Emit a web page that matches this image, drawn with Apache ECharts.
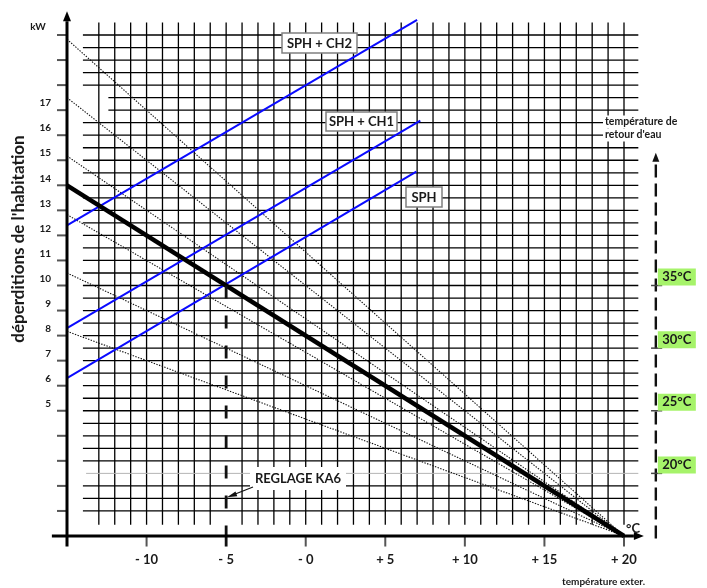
<!DOCTYPE html>
<html>
<head>
<meta charset="utf-8">
<script src="https://cdn.jsdelivr.net/npm/echarts@6/dist/echarts.min.js"></script>
<style>
  html, body { margin: 0; padding: 0; background: #fff; }
  #chart { width: 707px; height: 588px; }
</style>
</head>
<body>
<div id="chart"></div>
<script>
// Outdoor temperature axis (°C) and its tick labels
const xTicks = [-15, -10, -5, 0, 5, 10, 15, 20];
const xTickLabels = ['', '- 10', '- 5', '- 0', '+ 5', '+ 10', '+ 15', '+ 20'];
// Heat-loss axis (kW): values that carry a label
const yTickLabels = [5, 6, 7, 8, 9, 10, 11, 12, 13, 14, 15, 16, 17];

// Building heat loss: kW at -15 °C, falling to zero at +20 °C
const lossFrom = [-15, 14];
const lossTo = [20, 0];
// Family of dotted heat-loss curves: kW at -15 °C, all meeting 0 kW at +20 °C
const curveStartKw = [19.83, 17.5, 15.17, 12.83, 10.5, 8.17];

// Heat-pump output lines, [°C, kW] start and end
const sphLine = [[-15, 6.3], [6.95, 14.55]];
const ch1Line = [[-15, 8.3], [7.2, 16.58]];
const ch2Line = [[-15, 12.4], [7.0, 20.6]];

// Return water temperature scale
const returnTemps = ['20°C', '25°C', '30°C', '35°C'];
const returnKw = [2.5, 5, 7.5, 10];

// KA6 setting point: heat loss meets the SPH line
const setpoint = [-5, 10];

const FONT = 'Lato, "DejaVu Sans", sans-serif';
const INK = '#1a1a1a';

// ---------- helpers ----------
function segmentSeries(segs, style, z) {
  return {
    type: 'custom', silent: true, clip: false, z: z,
    data: segs,
    encode: { x: [0, 2], y: [1, 3] },
    renderItem: function (params, api) {
      const a = api.coord([api.value(0), api.value(1)]);
      const b = api.coord([api.value(2), api.value(3)]);
      return {
        type: 'line',
        shape: { x1: a[0], y1: a[1], x2: b[0], y2: b[1] },
        style: Object.assign({ lineCap: 'butt' }, style)
      };
    }
  };
}

// A line ending in a filled arrow head
function arrowSeries(from, to, style, headLen, headHalf, z) {
  return {
    type: 'custom', silent: true, clip: false, z: z,
    data: [[from[0], from[1], to[0], to[1]]],
    encode: { x: [0, 2], y: [1, 3] },
    renderItem: function (params, api) {
      const a = api.coord([api.value(0), api.value(1)]);
      const b = api.coord([api.value(2), api.value(3)]);
      const dx = b[0] - a[0], dy = b[1] - a[1];
      const len = Math.sqrt(dx * dx + dy * dy);
      const ux = dx / len, uy = dy / len;
      const bx = b[0] - ux * headLen, by = b[1] - uy * headLen;
      return {
        type: 'group',
        children: [
          { type: 'line', shape: { x1: a[0], y1: a[1], x2: bx, y2: by },
            style: Object.assign({ lineCap: 'butt' }, style) },
          { type: 'polygon',
            shape: { points: [[b[0], b[1]],
                              [bx - uy * headHalf, by + ux * headHalf],
                              [bx + uy * headHalf, by - ux * headHalf]] },
            style: { fill: style.stroke } }
        ]
      };
    }
  };
}

// ---------- background grid ----------
const gridSegs = [];
for (let x = -13; x <= 20; x++) {
  // the -5 °C column is replaced by the setting line below 10 kW
  gridSegs.push([x, x === setpoint[0] ? setpoint[1] : 0.45, x, 20.5]);
}
for (let k = 2; k <= 40; k++) {
  const y = k / 2;
  if (y === 2.5) continue;
  const x0 = (y === 17 || y === 17.5) ? -12.4 : -14;
  gridSegs.push([x0, y, 20.9, y]);
}

// ---------- axis ticks ----------
const yTickSegs = [];
for (let v = 1; v <= 20; v++) yTickSegs.push([-15.63, v, -15, v]);
const xTickSegs = xTicks.filter(v => v !== -15 && v !== setpoint[0]).map(v => [v, 0, v, -0.42]);

// ---------- curve data ----------
const dottedSegs = curveStartKw.map(v => [-15, v, lossTo[0], lossTo[1]]);
const blueSegs = [sphLine, ch1Line, ch2Line].map(l => [l[0][0], l[0][1], l[1][0], l[1][1]]);
const returnX = 22;
const returnTickSegs = returnKw.map(v => [returnX - 0.3, v, returnX + 0.4, v]);

// Green return temperature tags
const returnLabelSeries = {
  type: 'custom', silent: true, clip: false, z: 10,
  data: returnKw.map((v, i) => [returnX, v, i]),
  encode: { x: 0, y: 1 },
  renderItem: function (params, api) {
    const p = api.coord([api.value(0), api.value(1)]);
    const i = api.value(2);
    return {
      type: 'group',
      children: [
        { type: 'rect', shape: { x: p[0] + 2, y: p[1] - 17, width: 38, height: 17 },
          style: { fill: '#a6f36a' } },
        { type: 'text', x: p[0] + 21, y: p[1] - 8.5,
          style: { text: returnTemps[i], fill: INK, font: 'bold 13px ' + FONT,
                   align: 'center', verticalAlign: 'middle',
                   textAlign: 'center', textVerticalAlign: 'middle' } }
      ]
    };
  }
};

function boxLabel(text, x, y, w, h, border) {
  return {
    type: 'group', z: 100,
    children: [
      { type: 'rect', shape: { x: x, y: y, width: w, height: h }, z: 100,
        style: { fill: '#fff', stroke: border ? '#808080' : null, lineWidth: border ? 1.5 : 0 } },
      { type: 'text', x: x + w / 2, y: y + h / 2 + 0.5, z: 101,
        style: { text: text, fill: INK, font: 'bold 13px ' + FONT,
                 align: 'center', verticalAlign: 'middle',
                 textAlign: 'center', textVerticalAlign: 'middle' } }
    ]
  };
}

function plainText(text, x, y, size, align, extra) {
  return Object.assign({
    type: 'text', x: x, y: y, z: 100,
    style: { text: text, fill: INK, font: 'bold ' + size + 'px ' + FONT,
             align: align, verticalAlign: 'middle',
             textAlign: align, textVerticalAlign: 'middle' }
  }, extra || {});
}

const chart = echarts.init(document.getElementById('chart'), null, { renderer: 'canvas' });

chart.setOption({
  animation: false,
  backgroundColor: '#fff',
  grid: { left: 67, right: 83, top: 35, bottom: 52 },
  xAxis: {
    type: 'value', min: -15, max: 20, interval: 5,
    axisLine: { show: false },
    splitLine: { show: false },
    axisTick: { show: false },
    axisLabel: {
      margin: 17, fontSize: 13, fontWeight: 'bold', fontFamily: FONT, color: INK,
      formatter: v => { const i = xTicks.indexOf(v); return i >= 0 ? xTickLabels[i] : ''; }
    }
  },
  yAxis: {
    type: 'value', min: 0, max: 20, interval: 1,
    axisLine: { show: false },
    splitLine: { show: false },
    axisTick: { show: false },
    axisLabel: {
      margin: 16, fontSize: 10, fontWeight: 'bold', fontFamily: FONT, color: INK,
      verticalAlign: 'bottom', padding: [0, 0, 2, 0],
      formatter: v => yTickLabels.includes(v) ? String(v) : ''
    }
  },
  series: [
    segmentSeries(gridSegs, { stroke: '#000', lineWidth: 1.3 }, 1),
    segmentSeries([[-13.8, 2.5, 20.9, 2.5]], { stroke: '#b4b4b4', lineWidth: 1 }, 1),
    segmentSeries(dottedSegs, { stroke: '#111', lineWidth: 1.1, lineDash: [1.4, 1.4] }, 2),
    segmentSeries(blueSegs, { stroke: '#0a0aff', lineWidth: 2 }, 3),
    segmentSeries([[lossFrom[0], lossFrom[1], lossTo[0], lossTo[1]]],
                  { stroke: '#000', lineWidth: 4.5 }, 4),
    // setting line down to the temperature axis
    segmentSeries([[setpoint[0], setpoint[1], setpoint[0], 0]],
                  { stroke: '#111', lineWidth: 2.8, lineDash: [13, 17] }, 4),
    segmentSeries([[setpoint[0], 0, setpoint[0], -0.42]], { stroke: '#111', lineWidth: 2.8 }, 4),
    // axis ticks
    segmentSeries(yTickSegs, { stroke: '#555', lineWidth: 2 }, 5),
    segmentSeries(xTickSegs, { stroke: '#555', lineWidth: 2 }, 5),
    // axes
    arrowSeries([-15.95, 0], [21.25, 0], { stroke: '#000', lineWidth: 3 }, 10, 4, 6),
    arrowSeries([-15, -0.42], [-15, 20.95], { stroke: '#000', lineWidth: 3 }, 10, 4, 6),
    // return water temperature scale
    arrowSeries([returnX, -0.1], [returnX, 15.3],
                { stroke: '#111', lineWidth: 2.4, lineDash: [13, 6] }, 9, 3.5, 6),
    segmentSeries(returnTickSegs, { stroke: '#444', lineWidth: 1.5 }, 7),
    returnLabelSeries
  ],
  graphic: [
    plainText('déperditions de l\'habitation', 19, 239, 17, 'center', { rotation: Math.PI / 2 }),
    plainText('kW', 38, 27, 10, 'center'),
    plainText('°C', 633, 529, 13, 'center'),
    plainText('température exter.', 562, 582, 10, 'left'),
    {
      type: 'text', x: 603, y: 122, z: 100,
      style: { text: 'température de', fill: INK, font: 'bold 10.5px ' + FONT,
               align: 'left', verticalAlign: 'middle', textAlign: 'left', textVerticalAlign: 'middle',
               backgroundColor: '#fff', padding: [1, 2] }
    },
    {
      type: 'text', x: 603, y: 135, z: 100,
      style: { text: 'retour d\'eau', fill: INK, font: 'bold 10.5px ' + FONT,
               align: 'left', verticalAlign: 'middle', textAlign: 'left', textVerticalAlign: 'middle',
               backgroundColor: '#fff', padding: [1, 2] }
    },
    boxLabel('SPH + CH2', 282, 33, 75, 20, true),
    boxLabel('SPH + CH1', 326, 112, 71, 19, true),
    boxLabel('SPH', 406, 187, 36, 20, true),
    boxLabel('REGLAGE KA6', 250, 467, 96, 23, false),
    {
      type: 'line', z: 100,
      shape: { x1: 253, y1: 487, x2: 234, y2: 494.5 },
      style: { stroke: '#111', lineWidth: 1.2 }
    },
    {
      type: 'polygon', z: 100,
      shape: { points: [[227, 497.3], [235.5, 491.5], [237.3, 496.2]] },
      style: { fill: '#111' }
    }
  ]
});
</script>
</body>
</html>
